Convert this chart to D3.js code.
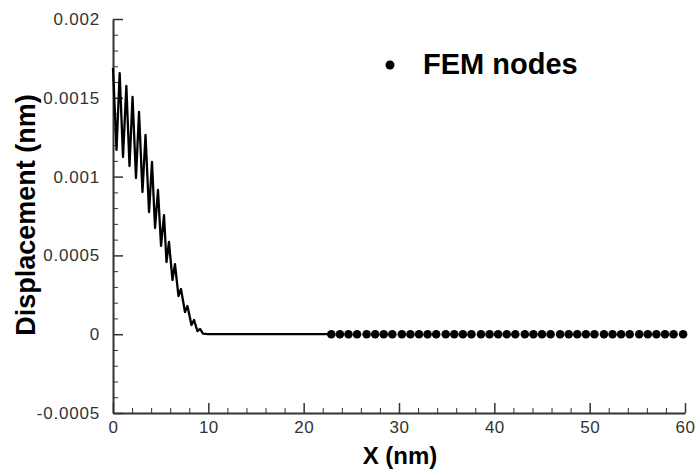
<!DOCTYPE html>
<html><head><meta charset="utf-8">
<script src="https://cdn.jsdelivr.net/npm/d3@7"></script>
<style>
body{margin:0;background:#fff;}
svg{display:block;}
</style></head>
<body><svg id="c" width="698" height="472"></svg>
<script>
// Solution curve (nm, nm)
const curveX = [0, 0.37, 0.70, 1.05, 1.40, 1.73, 2.05, 2.41, 2.73, 3.09, 3.41, 3.78, 4.09, 4.41, 4.72, 5.04, 5.35, 5.61, 5.87, 6.24, 6.50, 6.87, 7.13, 7.55, 7.81, 8.23, 8.50, 8.86, 9.13, 9.44, 9.9, 22.9];
const curveY = [0.001689, 0.001169, 0.001657, 0.001124, 0.001575, 0.001067, 0.001505, 0.000991, 0.00141, 0.000902, 0.001264, 0.000775, 0.001093, 0.000674, 0.000915, 0.00056, 0.000756, 0.000458, 0.000585, 0.000344, 0.000445, 0.000242, 0.000287, 0.000141, 0.000179, 0.000058, 0.00009, 0.00002, 0.000033, 0.000004, 0, 0];
// FEM nodes
const nodeX = [22.9, 23.8, 24.7, 25.6, 26.6, 27.5, 28.4, 29.3, 30.3, 31.2, 32.1, 33.0, 33.9, 34.9, 35.8, 36.7, 37.6, 38.6, 39.5, 40.4, 41.3, 42.2, 43.2, 44.1, 45.0, 45.9, 46.9, 47.8, 48.7, 49.6, 50.5, 51.5, 52.4, 53.3, 54.2, 55.2, 56.1, 57.0, 57.9, 58.8, 59.8];
const nodeY = [0, 0, 0, 0, 0, 0, 0, 0, 0, 0, 0, 0, 0, 0, 0, 0, 0, 0, 0, 0, 0, 0, 0, 0, 0, 0, 0, 0, 0, 0, 0, 0, 0, 0, 0, 0, 0, 0, 0, 0, 0];
const xTicks = [0, 10, 20, 30, 40, 50, 60];
const xTickLabels = ["0", "10", "20", "30", "40", "50", "60"];
const yTicks = [-0.0005, 0, 0.0005, 0.001, 0.0015, 0.002];
const yTickLabels = ["-0.0005", "0", "0.0005", "0.001", "0.0015", "0.002"];
const legendLabel = "FEM nodes";
const xTitle = "X (nm)";
const yTitle = "Displacement (nm)";

const svg = d3.select("#c");
const x = d3.scaleLinear().domain([0, 60]).range([113, 685]);
const y = d3.scaleLinear().domain([-0.0005, 0.002]).range([413, 19]);
const axisColor = "#333";
const font = "'Liberation Sans', Arial, Helvetica, sans-serif";

// minor ticks
const xMinor = d3.range(0, 60.001, 2).filter(v => v % 10 !== 0);
const yMinor = d3.range(-5, 20.001, 1).map(v => v / 10000).filter(v => Math.abs(Math.round(v * 20000)) % 10 !== 0);

svg.append("g").attr("transform", "translate(0,413)")
  .call(d3.axisBottom(x).tickValues(xMinor).tickSize(-5).tickSizeOuter(0).tickFormat(""))
  .call(g => g.select(".domain").remove())
  .call(g => g.selectAll("line").attr("stroke", axisColor).attr("stroke-width", 1));
svg.append("g").attr("transform", "translate(113,0)")
  .call(d3.axisLeft(y).tickValues(yMinor).tickSize(-5).tickSizeOuter(0).tickFormat(""))
  .call(g => g.select(".domain").remove())
  .call(g => g.selectAll("line").attr("stroke", axisColor).attr("stroke-width", 1));

const gx = svg.append("g").attr("transform", "translate(0,413)")
  .call(d3.axisBottom(x).tickValues(xTicks).tickSize(-10).tickSizeOuter(0).tickPadding(8)
    .tickFormat((d, i) => xTickLabels[i]));
gx.select(".domain").attr("stroke", axisColor).attr("stroke-width", 2);
gx.selectAll("line").attr("stroke", axisColor).attr("stroke-width", 1.5);
gx.selectAll("text").attr("font-family", font).attr("font-size", 17).attr("fill", "#333").attr("letter-spacing", 0.5);

const gy = svg.append("g").attr("transform", "translate(113,0)")
  .call(d3.axisLeft(y).tickValues(yTicks).tickSize(-10).tickSizeOuter(0).tickPadding(13)
    .tickFormat((d, i) => yTickLabels[i]));
gy.select(".domain").attr("stroke", axisColor).attr("stroke-width", 2);
gy.selectAll("line").attr("stroke", axisColor).attr("stroke-width", 1.5);
gy.selectAll("text").attr("font-family", font).attr("font-size", 17).attr("fill", "#333").attr("letter-spacing", 0.8);

// curve
const pts = curveX.map((v, i) => [v, curveY[i]]);
svg.append("path").datum(pts)
  .attr("fill", "none").attr("stroke", "#000").attr("stroke-width", 2.3).attr("stroke-linejoin", "round")
  .attr("d", d3.line().x(d => x(d[0])).y(d => y(d[1])));

// nodes
svg.append("g").selectAll("circle").data(nodeX.map((v, i) => [v, nodeY[i]])).join("circle")
  .attr("cx", d => x(d[0])).attr("cy", d => y(d[1])).attr("r", 4.3).attr("fill", "#000");

// legend
svg.append("circle").attr("cx", 390).attr("cy", 65).attr("r", 4.5).attr("fill", "#000");
svg.append("text").attr("x", 423).attr("y", 74).attr("font-family", font).attr("font-weight", "bold")
  .attr("font-size", 29).attr("fill", "#000").text(legendLabel);

// axis titles
svg.append("text").attr("x", 400).attr("y", 464).attr("text-anchor", "middle").attr("font-family", font)
  .attr("font-weight", "bold").attr("font-size", 24).attr("fill", "#000").text(xTitle);
svg.append("text").attr("transform", "translate(35,215) rotate(-90)").attr("text-anchor", "middle")
  .attr("font-family", font).attr("font-weight", "bold").attr("font-size", 27).attr("fill", "#000").text(yTitle);
</script></body></html>
